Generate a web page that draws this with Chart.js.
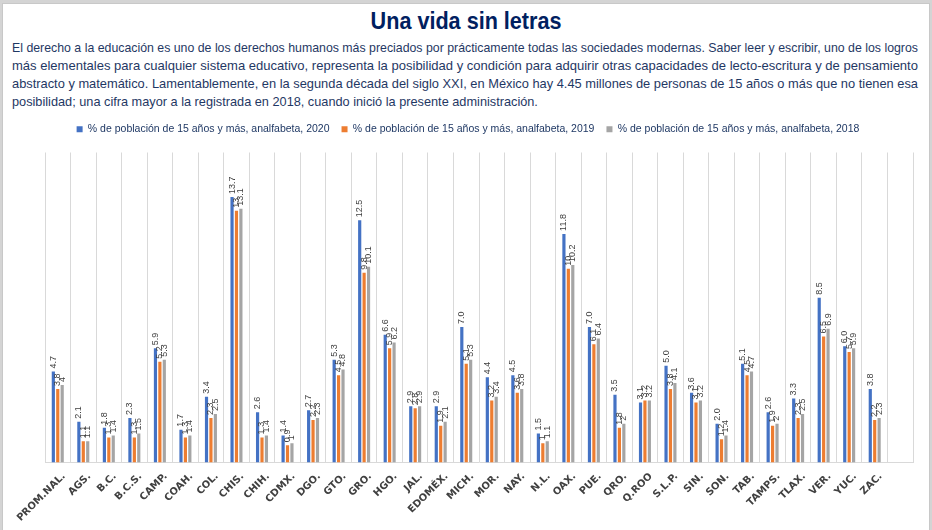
<!DOCTYPE html>
<html><head><meta charset="utf-8">
<script src="https://cdn.jsdelivr.net/npm/chart.js@4/dist/chart.umd.min.js"></script>
<style>
html,body{margin:0;padding:0;background:#d4d4d4;overflow:hidden;}
#frame{position:absolute;left:2px;top:3px;width:926px;height:540px;background:#fff;border-left:1px solid #c8c8c8;border-top:1px solid #c8c8c8;border-right:1px solid #c8c8c8;}
#title{position:absolute;left:0;top:7px;width:932px;text-align:center;}
#title span{display:inline-block;font-family:"Liberation Sans",sans-serif;font-weight:bold;font-size:24px;color:#002060;transform:scaleX(0.9);transform-origin:center;}
.ln{position:absolute;left:12px;white-space:nowrap;font-family:"Liberation Sans",sans-serif;font-size:13px;color:#1f3864;transform-origin:left center;display:inline-block;}
#wrap{position:absolute;left:0px;top:112px;width:928px;height:420px;}
</style></head>
<body>
<div id="frame"></div>
<div id="title"><span>Una vida sin letras</span></div>
<div class="ln" style="top:40px">El derecho a la educación es uno de los derechos humanos más preciados por prácticamente todas las sociedades modernas. Saber leer y escribir, uno de los logros</div>
<div class="ln" style="top:58px">más elementales para cualquier sistema educativo, representa la posibilidad y condición para adquirir otras capacidades de lecto-escritura y de pensamiento</div>
<div class="ln" style="top:76px">abstracto y matemático. Lamentablemente, en la segunda década del siglo XXI, en México hay 4.45 millones de personas de 15 años o más que no tienen esa</div>
<div class="ln" style="top:94px">posibilidad; una cifra mayor a la registrada en 2018, cuando inició la presente administración.</div>
<div id="wrap"><canvas id="c"></canvas></div>
<script>
const categories = ["PROM.NAL.","AGS.","B.C.","B.C.S.","CAMP.","COAH.","COL.","CHIS.","CHIH.","CDMX.","DGO.","GTO.","GRO.","HGO.","JAL.","EDOMÉX.","MICH.","MOR.","NAY.","N.L.","OAX.","PUE.","QRO.","Q.ROO","S.L.P.","SIN.","SON.","TAB.","TAMPS.","TLAX.","VER.","YUC.","ZAC.",""];
const series2020 = [4.7,2.1,1.8,2.3,5.9,1.7,3.4,13.7,2.6,1.4,2.7,5.3,12.5,6.6,2.9,2.9,7.0,4.4,4.5,1.5,11.8,7.0,3.5,3.1,5.0,3.6,2.0,5.1,2.6,3.3,8.5,6.0,3.8,null];
const series2019 = [3.8,1.1,1.3,1.3,5.2,1.3,2.3,13,1.3,0.9,2.2,4.5,9.8,5.9,2.8,1.9,5.1,3.2,3.6,1,10,6.1,1.8,3.2,3.8,3.1,1.2,4.5,1.9,2.3,6.5,5.7,2.2,null];
const series2018 = [4,1.1,1.4,1.5,5.3,1.4,2.5,13.1,1.4,1,2.3,4.8,10.1,6.2,2.9,2.1,5.3,3.4,3.8,1.1,10.2,6.4,2,3.2,4.1,3.2,1.4,4.7,2,2.5,6.9,5.9,2.3,null];
const seriesNames = ["% de población de 15 años y más, analfabeta, 2020","% de población de 15 años y más, analfabeta, 2019","% de población de 15 años y más, analfabeta, 2018"];
const colors = ["#4472C4","#ED7D31","#A5A5A5"];

// fit paragraph lines to the reference width (justified block)
(function(){
  const lines = document.querySelectorAll('.ln');
  let sum=0;
  for (let i=0;i<3;i++){ const s = 906/lines[i].getBoundingClientRect().width; lines[i].style.transform='scaleX('+s+')'; sum+=s; }
  lines[3].style.transform='scaleX('+(sum/3)+')';
})();

const labelPlugin = {
  id:'barLabels',
  afterDatasetsDraw(chart){
    const ctx = chart.ctx;
    ctx.save();
    ctx.font = '9px "Liberation Sans",sans-serif';
    ctx.fillStyle = '#404040';
    ctx.textAlign = 'left';
    ctx.textBaseline = 'middle';
    chart.data.datasets.forEach((ds,di)=>{
      const meta = chart.getDatasetMeta(di);
      meta.data.forEach((el,i)=>{
        const v = ds.data[i];
        if (v===null||v===undefined) return;
        const txt = di===0 ? v.toFixed(1) : String(v);
        ctx.save();
        ctx.translate(el.x, el.y-3);
        ctx.rotate(-Math.PI/2);
        ctx.fillText(txt,0,0);
        ctx.restore();
      });
    });
    ctx.restore();
  }
};
const legendGap = {
  id:'legendGap',
  beforeInit(chart){
    const fit = chart.legend.fit;
    chart.legend.fit = function(){ fit.bind(chart.legend)(); this.height += 8; };
  },
  afterLayout(chart){
    chart.legend.left -= 11;
    chart.legend.right -= 11;
  }
};

new Chart(document.getElementById('c'),{
  type:'bar',
  data:{
    labels:categories,
    datasets:[
      {label:seriesNames[0],data:series2020,backgroundColor:colors[0]},
      {label:seriesNames[1],data:series2019,backgroundColor:colors[1]},
      {label:seriesNames[2],data:series2018,backgroundColor:colors[2]}
    ]
  },
  options:{
    responsive:true,maintainAspectRatio:false,animation:false,
    datasets:{bar:{categoryPercentage:0.52,barPercentage:0.72}},
    layout:{padding:{left:45,right:15,top:0,bottom:0}},
    plugins:{
      legend:{position:'top',labels:{boxWidth:6,boxHeight:6,padding:12,color:'#1f3864',font:{family:'"Liberation Sans",sans-serif',size:10.5}}},
      tooltip:{enabled:false}
    },
    scales:{
      x:{grid:{display:true,offset:true,color:'#d9d9d9',drawTicks:false},border:{color:'#d9d9d9'},
         ticks:{maxRotation:45,minRotation:45,autoSkip:false,padding:8,labelOffset:6,color:'#404040',font:{family:'"DejaVu Sans",sans-serif',size:10,weight:'bold'}}},
      y:{display:false,min:0,max:16}
    }
  },
  plugins:[labelPlugin,legendGap]
});
</script>
</body></html>
